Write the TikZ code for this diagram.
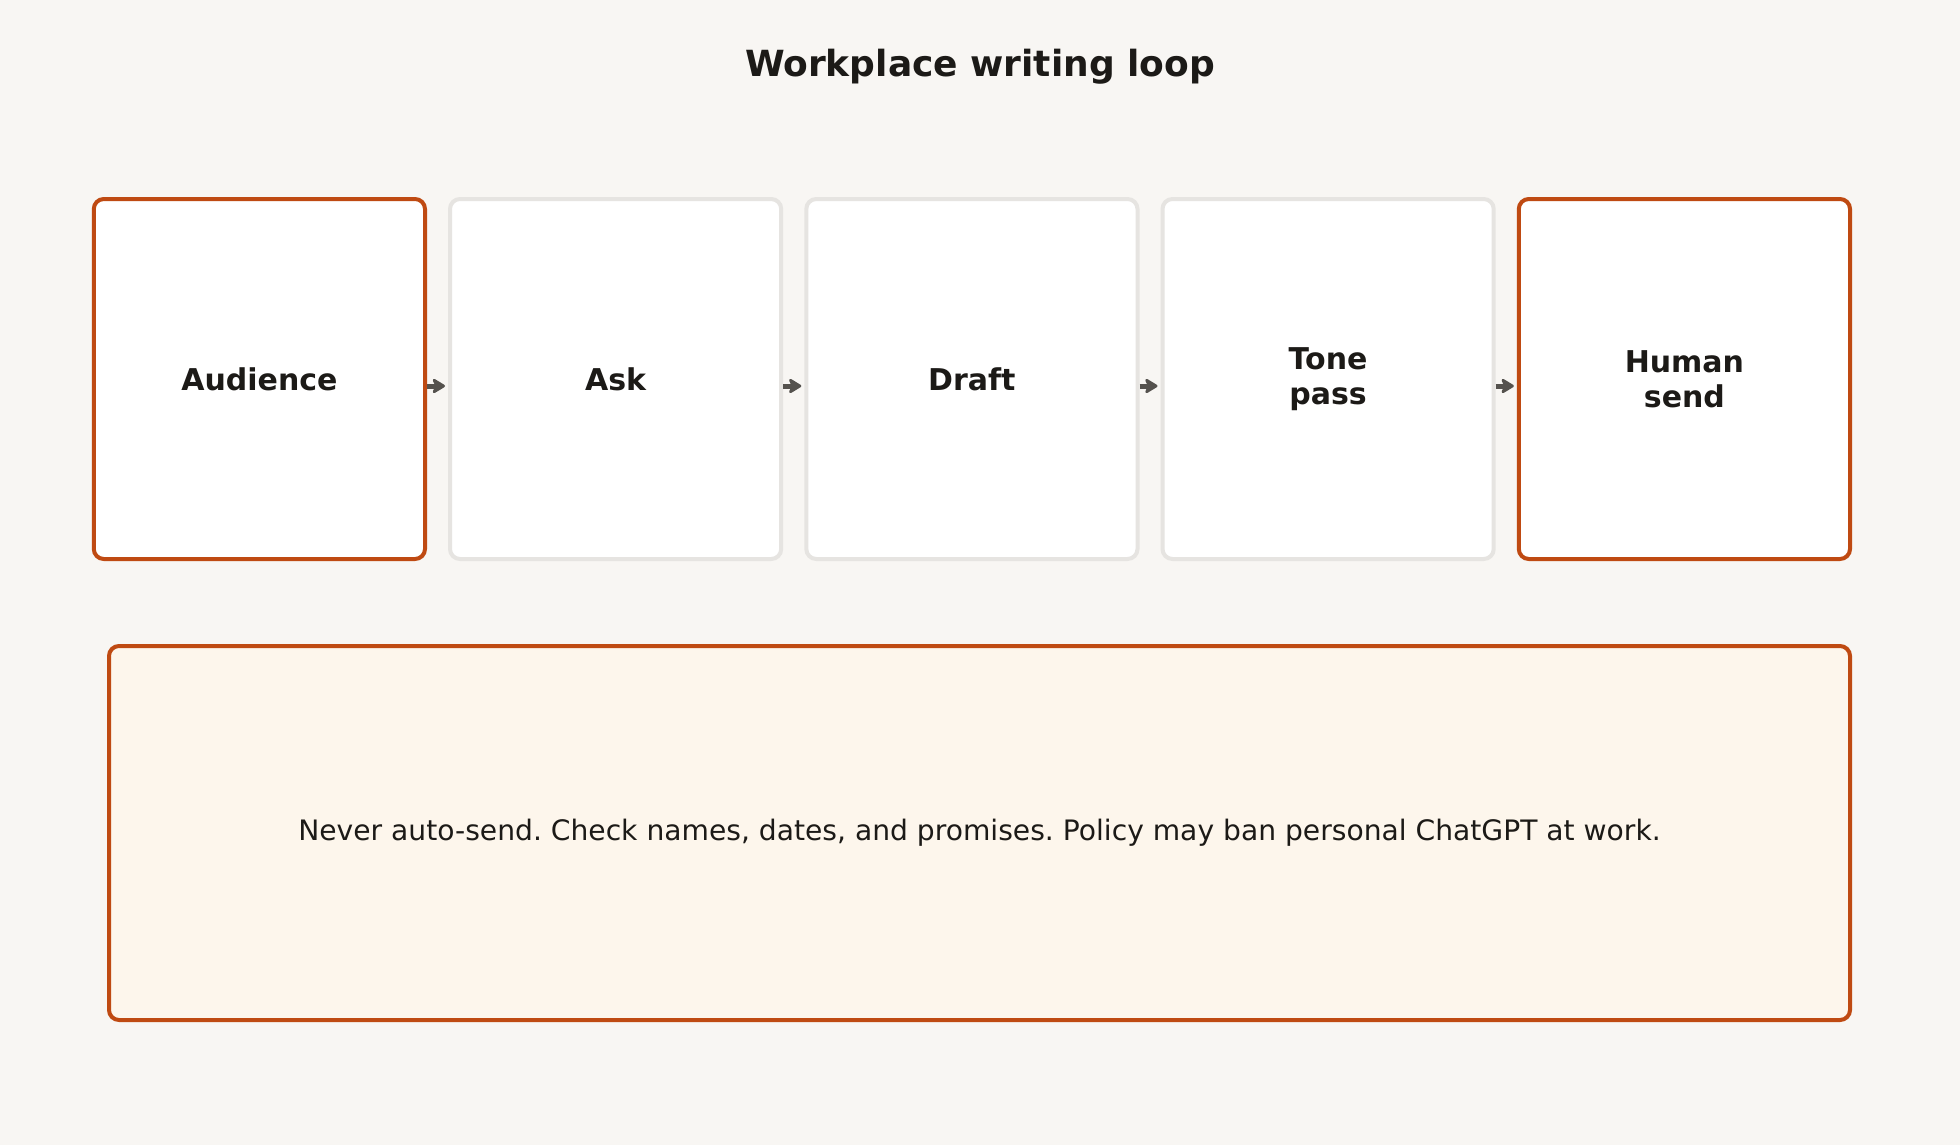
\documentclass[tikz,border=0pt]{standalone}
\usepackage{fontspec}
\setmainfont{DejaVu Sans}
\usepackage{xcolor}
\usetikzlibrary{arrows.meta}
\definecolor{bgpaper}{HTML}{F8F6F3}
\definecolor{accent}{HTML}{BF4A12}
\definecolor{softgray}{HTML}{E6E4E1}
\definecolor{inkdark}{HTML}{1C1A17}
\definecolor{arrowgray}{HTML}{55524E}
\definecolor{notefill}{HTML}{FDF6EC}
\frenchspacing
\tikzset{
  stage/.style={draw=softgray,fill=white,line width=2pt,rounded corners=5pt,
    minimum width=165.6pt,minimum height=180pt,align=center,text=inkdark,
    font=\fontsize{15}{17.5}\selectfont\bfseries},
  keystage/.style={stage,draw=accent},
  flow/.style={draw=arrowgray,line width=2.5pt,-{Stealth[length=7.5pt,width=9pt,inset=2pt,round]},shorten >=1.5pt}
}
\begin{document}
\begin{tikzpicture}[x=0.5pt,y=-0.5pt]
    \fill[bgpaper] (0,0) rectangle (1960,1145);
    \useasboundingbox (0,0) rectangle (1960,1145);
    \node[text=inkdark,font=\fontsize{18}{21}\selectfont\bfseries] (title) at (980,67) {Workplace writing loop};
    \node[keystage] (audience) at (259.4,379) {Audience};
    \node[stage] (ask) at (615.6,379) {Ask};
    \node[stage] (draft) at (971.9,379) {Draft};
    \node[stage] (tone) at (1328.1,379) {Tone\\pass};
    \node[keystage] (send) at (1684.4,379) {Human\\send};
    \draw[flow] ([yshift=-3.5pt]audience.east) -- ([yshift=-3.5pt]ask.west);
    \draw[flow] ([yshift=-3.5pt]ask.east) -- ([yshift=-3.5pt]draft.west);
    \draw[flow] ([yshift=-3.5pt]draft.east) -- ([yshift=-3.5pt]tone.west);
    \draw[flow] ([yshift=-3.5pt]tone.east) -- ([yshift=-3.5pt]send.west);
    \node[draw=accent,fill=notefill,line width=2pt,rounded corners=5pt,
      minimum width=870.5pt,minimum height=187pt,text=inkdark,
      font=\fontsize{14.08}{17}\selectfont] (note) at (979.5,833)
      {Never auto-send. Check names, dates, and promises. Policy may ban personal ChatGPT at work.};
  \end{tikzpicture}
\end{document}
